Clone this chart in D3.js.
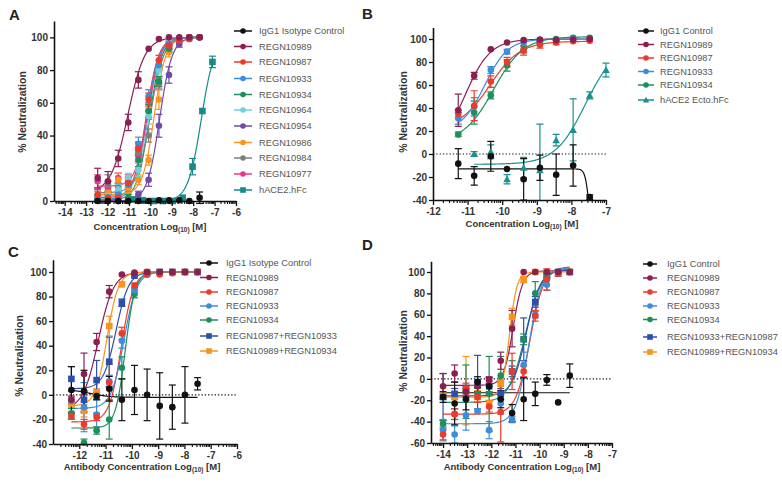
<!DOCTYPE html>
<html><head><meta charset="utf-8">
<script src="https://cdn.jsdelivr.net/npm/d3@7"></script>
<style>body{margin:0;background:#fff}svg{display:block}</style>
</head><body>
<svg id="chart" width="782" height="483"></svg>
<script>
// ================= DATA =================
// Panel A
const aSeries = ["IgG1 Isotype Control","REGN10989","REGN10987","REGN10933","REGN10934","REGN10964","REGN10954","REGN10986","REGN10984","REGN10977","hACE2.hFc"];
const aConc = [-12.46,-11.98,-11.5,-11.03,-10.56,-10.08,-9.6,-9.13,-8.65,-8.18,-7.7];
const aConcAce2 = [-10.82,-10.35,-9.88,-9.42,-8.95,-8.49,-8.03,-7.57,-7.1];
const aValues = [
  [0,0,0,0,0,0,0.5,0.5,0.5,0,2],
  [14,12,26,48,74,93,99,100,100,100,100],
  [4,2,2,11,32,62,86,95,98,99,100],
  [1,0,4,10,35,64,83,96,98,100,100],
  [1,2,0,2,25,55,73,93,98,100,100],
  [2,3,7,14,19,52,80,97,99,100,100],
  [1,0,0,1,4,13,46,77,96,99,100],
  [2,5,13,8,13,25,62,91,98,100,100],
  [3,10,8,12,30,40,72,93,98,100,100],
  [12,8,14,12,28,55,72,95,98,100,100],
  [1,0.5,0,0,0,2,21,55,85]
];
const aErrors = [
  [0,0,0,0,0,0,0.5,0.5,0.5,0.5,3.5],
  [6,6,5,5,5,1,0.5,0.5,0.5,0.5,0.5],
  [3,2,2,3,4,4,3,2,1,1,0.5],
  [2,1,2,4,4,4,3,2,1,0.5,0.5],
  [2,2,1,2,4,4,3,2,1,0.5,0.5],
  [2,3,3,3,4,5,3,2,1,0.5,0.5],
  [1,1,1,1,2,4,7,5,2,1,0.5],
  [2,3,4,3,3,3,6,3,1,0.5,0.5],
  [3,6,3,3,3,4,3,2,1,0.5,0.5],
  [4,4,3,4,4,5,4,2,1,0.5,0.5],
  [0.5,0.5,0.5,0.5,0.5,1.5,5,1,3.5]
];
// fitted 4-parameter logistic: [bottom, top, logEC50, hill]
const aFits = [null,[5,100,-11.05,1.1],[2,100,-10.2,1.5],[1,100,-10.18,1.5],[0.5,100,-10.05,1.5],[3,100,-10.1,1.5],[0,100,-9.57,1.5],[4,100,-9.82,1.6],[5,100,-10.0,1.4],[9,100,-10.1,1.5],[0,100,-7.62,1.4]];
const aXTicks = [-14,-13,-12,-11,-10,-9,-8,-7,-6];
const aYTicks = [0,20,40,60,80,100];

// Panel B
const bSeries = ["IgG1 Control","REGN10989","REGN10987","REGN10933","REGN10934","hACE2 Ecto.hFc"];
const bConc = [-11.27,-10.81,-10.33,-9.86,-9.38,-8.91,-8.44,-7.95,-7.47];
const bConcAce2 = [-10.81,-10.33,-9.86,-9.38,-8.91,-8.44,-7.95,-7.47,-7.0];
const bValues = [
  [-8.4,-19,-2,-13,-22,-12,-18,-10,-37.5],
  [38,68,91,97,99,99.5,99,99.5,100],
  [35,42,63,80,90,95,97,98,98.5],
  [31,41,73,89,97,99,99,100,100],
  [17,36,51,77,91,98,100,101,101],
  [0,2,-22,-12,-14,12,21,51,73]
];
const bErrors = [
  [13,8,13,1,18,11,18,18,2],
  [14,3,1,1,1,1,1,1,1],
  [3,13,5,4,4,3,2,1,1],
  [5,8,3,2,1,1,1,1,1],
  [2,10,3,5,3,2,1,1,1],
  [2,6,4,9,40,5,27,3,6]
];
const bFits = [[-13,-70,-7.5,8],[0,100,-11.09,1.17],[22,98,-10.35,1.0],[20,100,-10.5,1.3],[10,102,-10.25,1.0],[-9,95,-7.6,1.0]];
const bXTicks = [-12,-11,-10,-9,-8,-7];
const bYTicks = [-40,-20,0,20,40,60,80,100];

// Panel C
const cSeries = ["IgG1 Isotype Control","REGN10989","REGN10987","REGN10933","REGN10934","REGN10987+REGN10933","REGN10989+REGN10934"];
const cConc = [-12.3,-11.82,-11.34,-10.86,-10.38,-9.9,-9.42,-8.94,-8.46,-7.98,-7.5];
const cValues = [
  [4,3,-1,5,-4,4,0,-9,-10,0,9],
  [-4,17,43,84,98,99.5,100,100,100,100,100],
  [-17,-24,-18,10,50,89,98,98,99,100,100],
  [-5,-10,-16,11,44,85,98,99,100,100,100],
  [-15,-39,-29,-20,22,82,98,99,100,100,100],
  [13,-4,12,27,75,97,99,100,100,100,100],
  [-7,-13,2,56,90,98,100,100,100,100,100]
];
const cErrors = [
  [19,17,3,10,17,20,21,27,18,23,5],
  [3,17,7,5,1,1,0.5,0.5,0.5,0.5,0.5],
  [3,4,3,15,5,2,1,1,1,0.5,0.5],
  [3,20,13,5,6,2,1,1,0.5,0.5,0.5],
  [4,3,3,16,9,3,1,1,0.5,0.5,0.5],
  [10,7,16,20,3,1,1,0.5,0.5,0.5,0.5],
  [3,5,3,8,2,1,0.5,0.5,0.5,0.5,0.5]
];
const cFits = [[4.5,-2,-11.6,1.2],[-12,100,-11.28,1.5],[-22,100,-10.4,1.9],[-11,100,-10.3,1.8],[-27,100,-10.25,2.3],[5,100,-10.6,1.8],[-9,100,-10.95,2.0]];
const cXTicks = [-12,-11,-10,-9,-8,-7,-6];
const cYTicks = [-40,-20,0,20,40,60,80,100];

// Panel D
const dSeries = ["IgG1 Control","REGN10989","REGN10987","REGN10933","REGN10934","REGN10933+REGN10987","REGN10989+REGN10934"];
const dConc = [-14,-13.52,-13.05,-12.57,-12.09,-11.61,-11.14,-10.66,-10.18,-9.7,-9.23,-8.75];
const dValues = [
  [-17,-23,-19,-3,-7,-19,-32,-19,-14,-1,-22,3],
  [-7,5,-12,-7,-1,17,47,100,100,100,100,100],
  [-52,-33,-9,-17,-26,-31,7,7,59,93,99,100],
  [-48,-52,-34,-30,-48,-23,-38,13,60,88,99,100],
  [-42,-33,-12,-14,-14,3,7,37,80,97,100,100],
  [-17,-14,-11,-3,-7,-14,7,37,72,97,100,100],
  [-16,-17,-11,-16,-23,-4,58,93,100,100,100,100]
];
const dErrors = [
  [5,20,10,5,8,8,8,20,11,5,0,11],
  [12,8,5,5,3,8,17,1,1,1,1,1],
  [5,5,5,5,5,28,17,5,5,10,3,2],
  [10,8,14,2,8,10,3,12,3,5,3,1],
  [3,5,25,5,35,18,10,5,11,3,1,1],
  [22,5,5,25,5,5,5,20,5,2,1,1],
  [3,5,32,5,3,3,8,3,1,1,1,1]
];
const dFits = [[-13,-13,-11,1],[-6,101,-11.1,2.2],[-33,105,-10.4,1.5],[-42,104,-10.45,1.6],[-22,103,-10.6,1.3],[-16,102,-10.55,1.5],[-17,100,-11.25,2.8]];
const dXTicks = [-14,-13,-12,-11,-10,-9,-8,-7];
const dYTicks = [-60,-40,-20,0,20,40,60,80,100];

// ================= STYLES =================
const colorOf = {
  "IgG1 Isotype Control":"#111111","IgG1 Control":"#111111",
  "REGN10989":"#8c1f52","REGN10987":"#ec3a2b","REGN10933":"#3d8ddb","REGN10934":"#1d8f5b",
  "REGN10964":"#72d0da","REGN10954":"#6f4aa8","REGN10986":"#f7941d","REGN10984":"#7f7f7f",
  "REGN10977":"#e8388c","hACE2.hFc":"#178a8a","hACE2 Ecto.hFc":"#1a9090",
  "REGN10987+REGN10933":"#2c4fab","REGN10933+REGN10987":"#2c4fab","REGN10989+REGN10934":"#f7941d"
};
const shapeOf = name => name.startsWith("hACE2 Ecto") ? "triangle" :
  (name.startsWith("hACE2") || name.includes("+")) ? "square" : "circle";

// ================= DRAW =================
const svg = d3.select("#chart");
const defs = svg.append("defs");
const fourPL = (p, x) => p[0] + (p[1]-p[0]) / (1 + Math.pow(10, (p[2]-x)*p[3]));

const panels = [
  {id:"A", letter:[9,20], box:{l:54,r:236,t:21,b:201}, xDomain:[-14.5,-6], yDomain:[0,110],
   xTicks:aXTicks, yTicks:aYTicks, series:aSeries,
   concs:aSeries.map((s,i)=> i===10 ? aConcAce2 : aConc), values:aValues, errors:aErrors, fits:aFits,
   legend:{x0:234,x1:252,xm:243,xt:259, ys:[31,46.5,62,78.5,94.5,110,126,142.5,158,174,190]},
   xTitle:{pre:"Concentration Log",x:150,y:226}, yTitle:{x:22,y:112}, zero:false},
  {id:"B", letter:[362,19], box:{l:433,r:606,t:27.5,b:200}, xDomain:[-12,-7], yDomain:[-40,110],
   xTicks:bXTicks, yTicks:bYTicks, series:bSeries,
   concs:bSeries.map((s,i)=> i===5 ? bConcAce2 : bConc), values:bValues, errors:bErrors, fits:bFits,
   legend:{x0:638,x1:654,xm:646,xt:660, ys:[31,44.5,58,71.5,85,100]},
   xTitle:{pre:"Concentration Log",x:522,y:223}, yTitle:{x:402.5,y:112}, zero:true},
  {id:"C", letter:[8,257], box:{l:53,r:237,t:259.7,b:444}, xDomain:[-13,-6], yDomain:[-40,110],
   xTicks:cXTicks, yTicks:cYTicks, series:cSeries,
   concs:cSeries.map(()=>cConc), values:cValues, errors:cErrors, fits:cFits,
   legend:{x0:200,x1:218,xm:209,xt:226, ys:[263,277.5,292,306,320,336,351]},
   xTitle:{pre:"Antibody Concentration Log",x:142,y:466}, yTitle:{x:19,y:356}, zero:true},
  {id:"D", letter:[362,250], box:{l:431,r:612,t:261.3,b:443}, xDomain:[-14.5,-7], yDomain:[-60,110],
   xTicks:dXTicks, yTicks:dYTicks, series:dSeries,
   concs:dSeries.map(()=>dConc), values:dValues, errors:dErrors, fits:dFits,
   legend:{x0:643,x1:657,xm:650,xt:667, ys:[264,278,292,306,319.5,337,352]},
   xTitle:{pre:"Antibody Concentration Log",x:522,y:466}, yTitle:{x:403,y:351}, zero:true}
];

function drawMarker(g, shape, cx, cy, color, size) {
  if (shape === "circle") {
    g.append("circle").attr("cx",cx).attr("cy",cy).attr("r",size).attr("fill",color);
  } else if (shape === "square") {
    g.append("rect").attr("x",cx-size).attr("y",cy-size).attr("width",size*2).attr("height",size*2).attr("fill",color);
  } else {
    const s = size*1.15;
    g.append("path").attr("d",`M${cx},${cy-s}L${cx+s},${cy+s*0.8}L${cx-s},${cy+s*0.8}Z`).attr("fill",color);
  }
}

panels.forEach(P => {
  const x = d3.scaleLinear().domain(P.xDomain).range([P.box.l, P.box.r]);
  const y = d3.scaleLinear().domain(P.yDomain).range([P.box.b, P.box.t]);
  const g = svg.append("g");
  const clipId = "clip" + P.id;
  defs.append("clipPath").attr("id", clipId).append("rect")
    .attr("x", P.box.l).attr("y", P.box.t - 10).attr("width", P.box.r - P.box.l + 10)
    .attr("height", P.box.b - P.box.t + 10 + (P.id==="A" ? 4 : 0));

  // panel letter
  g.append("text").attr("x",P.letter[0]).attr("y",P.letter[1]).text(P.id)
    .attr("font-family","Liberation Sans, Arial, sans-serif").attr("font-weight","bold")
    .attr("font-size",15).attr("fill","#222");

  // zero line
  if (P.zero) {
    g.append("line").attr("x1",P.box.l).attr("x2",P.box.r).attr("y1",y(0)).attr("y2",y(0))
      .attr("stroke","#111").attr("stroke-width",1.1).attr("stroke-dasharray","1.3,2");
  }

  const plot = g.append("g").attr("clip-path", `url(#${clipId})`);
  // curves
  P.series.forEach((name, i) => {
    const p = P.fits[i]; if (!p) return;
    const xs = P.concs[i];
    const x0 = d3.min(xs), x1 = d3.max(xs);
    const pts = d3.range(0, 201).map(k => { const xv = x0 + (x1-x0)*k/200; return [xv, fourPL(p, xv)]; });
    plot.append("path").datum(pts)
      .attr("d", d3.line().x(d=>x(d[0])).y(d=>y(d[1])))
      .attr("fill","none").attr("stroke",colorOf[name]).attr("stroke-width",1.2);
  });
  // error bars and points (reverse so first series is on top)
  const order = P.series.map((s,i)=>i).reverse();
  order.forEach(i => {
    const name = P.series[i], col = colorOf[name];
    const xs = P.concs[i];
    P.values[i].forEach((v, k) => {
      const e = P.errors[i][k];
      if (e > 1.5) {
        const cx = x(xs[k]);
        const eb = plot.append("g").attr("stroke",col).attr("stroke-width",1.2);
        eb.append("line").attr("x1",cx).attr("x2",cx).attr("y1",y(v-e)).attr("y2",y(v+e));
        eb.append("line").attr("x1",cx-3.5).attr("x2",cx+3.5).attr("y1",y(v+e)).attr("y2",y(v+e));
        eb.append("line").attr("x1",cx-3.5).attr("x2",cx+3.5).attr("y1",y(v-e)).attr("y2",y(v-e));
      }
    });
  });
  order.forEach(i => {
    const name = P.series[i], col = colorOf[name];
    const xs = P.concs[i];
    P.values[i].forEach((v, k) => {
      if (v < P.yDomain[0] - 2) return;
      drawMarker(g, shapeOf(name), x(xs[k]), y(v), col, 3.3);
    });
  });

  // axes
  const fontFam = "Liberation Sans, Arial, sans-serif";
  const yAx = g.append("g").attr("transform",`translate(${P.box.l},0)`)
    .call(d3.axisLeft(y).tickValues(P.yTicks).tickSize(4).tickSizeOuter(0).tickPadding(2).tickFormat(d=>String(d)));
  const xAx = g.append("g").attr("transform",`translate(0,${P.box.b})`)
    .call(d3.axisBottom(x).tickValues(P.xTicks).tickSize(5).tickSizeOuter(0).tickPadding(3).tickFormat(d=>String(d)));
  [yAx, xAx].forEach(ax => {
    ax.select(".domain").attr("stroke","#111").attr("stroke-width",1.6);
    ax.selectAll(".tick line").attr("stroke","#111").attr("stroke-width",1.3);
    ax.selectAll(".tick text").attr("font-family",fontFam).attr("font-weight","bold")
      .attr("font-size",10).attr("fill","#333");
  });
  // y domain should extend to top
  // minor ticks on the log axis
  const minor = [];
  for (let d = Math.floor(P.xDomain[0]); d < P.xDomain[1]; d++) {
    for (let k = 2; k <= 9; k++) {
      const v = d + Math.log10(k);
      if (v > P.xDomain[0] && v < P.xDomain[1]) minor.push(v);
    }
  }
  g.append("g").selectAll("line").data(minor).join("line")
    .attr("x1",d=>x(d)).attr("x2",d=>x(d)).attr("y1",P.box.b).attr("y2",P.box.b+3)
    .attr("stroke","#111").attr("stroke-width",1.1);

  // axis titles
  g.append("text").attr("transform",`translate(${P.yTitle.x},${P.yTitle.y}) rotate(-90)`)
    .attr("text-anchor","middle").attr("dominant-baseline","central")
    .attr("font-family",fontFam).attr("font-weight","bold").attr("font-size",10.5).attr("fill","#333")
    .text("% Neutralization");
  const xt = g.append("text").attr("x",P.xTitle.x).attr("y",P.xTitle.y)
    .attr("text-anchor","middle").attr("dominant-baseline","central")
    .attr("font-family",fontFam).attr("font-weight","bold").attr("font-size",9.5).attr("fill","#333");
  xt.append("tspan").text(P.xTitle.pre);
  xt.append("tspan").attr("font-size",6.5).attr("dy",2.5).text("(10)");
  xt.append("tspan").attr("dy",-2.5).text(" [M]");

  // legend
  const L = P.legend;
  P.series.forEach((name, i) => {
    const ly = L.ys[i], col = colorOf[name];
    g.append("line").attr("x1",L.x0).attr("x2",L.x1).attr("y1",ly).attr("y2",ly)
      .attr("stroke",col).attr("stroke-width",1.5);
    drawMarker(g, shapeOf(name), L.xm, ly, col, 2.8);
    g.append("text").attr("x",L.xt).attr("y",ly).attr("dominant-baseline","central")
      .attr("font-family",fontFam).attr("font-size",9.3).attr("fill","#555").text(name);
  });
});
</script>
</body></html>
